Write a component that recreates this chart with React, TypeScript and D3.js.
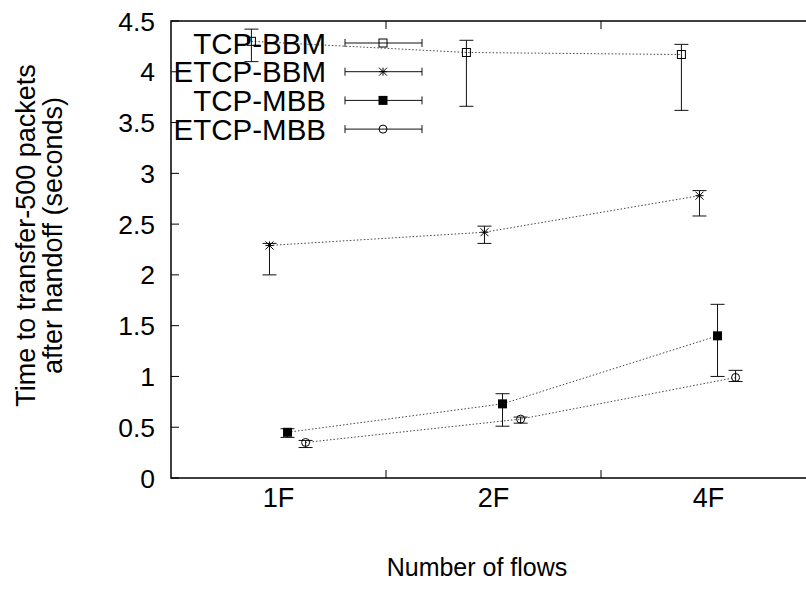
import React from "react";
import * as d3 from "d3";

const categories = ["1F", "2F", "4F"];
const seriesNames = ["TCP-BBM", "ETCP-BBM", "TCP-MBB", "ETCP-MBB"];
const tcpBbm = [4.3, 4.19, 4.17];
const tcpBbmLo = [4.1, 3.66, 3.62];
const tcpBbmHi = [4.42, 4.31, 4.27];
const etcpBbm = [2.29, 2.42, 2.78];
const etcpBbmLo = [2.0, 2.31, 2.58];
const etcpBbmHi = [2.31, 2.48, 2.83];
const tcpMbb = [0.45, 0.73, 1.4];
const tcpMbbLo = [0.4, 0.51, 1.0];
const tcpMbbHi = [0.485, 0.83, 1.71];
const etcpMbb = [0.35, 0.58, 0.99];
const etcpMbbLo = [0.3, 0.54, 0.95];
const etcpMbbHi = [0.37, 0.6, 1.06];
const yTicks = [0, 0.5, 1, 1.5, 2, 2.5, 3, 3.5, 4, 4.5];
const xMinorTicks = [1.5, 2.5];

const W = 806;
const H = 592;
const FONT = "'Liberation Sans', Arial, Helvetica, sans-serif";

const series = [
  { name: seriesNames[0], v: tcpBbm, lo: tcpBbmLo, hi: tcpBbmHi, marker: "openSquare" },
  { name: seriesNames[1], v: etcpBbm, lo: etcpBbmLo, hi: etcpBbmHi, marker: "star" },
  { name: seriesNames[2], v: tcpMbb, lo: tcpMbbLo, hi: tcpMbbHi, marker: "filledSquare" },
  { name: seriesNames[3], v: etcpMbb, lo: etcpMbbLo, hi: etcpMbbHi, marker: "openCircle" },
];

function Marker({ type, x, y }: { type: string; x: number; y: number }) {
  if (type === "openSquare")
    return <rect x={x - 4} y={y - 4} width={8} height={8} fill="none" stroke="#000" strokeWidth={1} />;
  if (type === "filledSquare")
    return <rect x={x - 4.5} y={y - 4.5} width={9} height={9} fill="#000" />;
  if (type === "openCircle")
    return <circle cx={x} cy={y} r={4} fill="none" stroke="#000" strokeWidth={1} />;
  const s = 4;
  return (
    <g stroke="#000" strokeWidth={1}>
      <line x1={x - s} y1={y} x2={x + s} y2={y} />
      <line x1={x} y1={y - s} x2={x} y2={y + s} />
      <line x1={x - s} y1={y - s} x2={x + s} y2={y + s} />
      <line x1={x - s} y1={y + s} x2={x + s} y2={y - s} />
    </g>
  );
}

export default function App() {
  const left = 171;
  const top = 21;
  const bottom = 478;
  const x = d3.scaleLinear().domain([0.5, 3.5]).range([left, 816]);
  const y = d3.scaleLinear().domain([0, 4.5]).range([bottom, top]);
  const step = 0.084;
  const line = d3
    .line<[number, number]>()
    .x((d) => d[0])
    .y((d) => d[1]);

  return (
    <svg
      width={W}
      height={H}
      style={{ position: "absolute", left: 0, top: 0, background: "#fff" }}
      fontFamily={FONT}
    >
      <rect x={0} y={0} width={W} height={H} fill="#fff" />
      {/* y ticks */}
      {yTicks.map((t) => (
        <g key={t}>
          <line x1={left} x2={left + 8} y1={y(t)} y2={y(t)} stroke="#000" strokeWidth={1} />
          <text x={155} y={y(t)} dy="0.36em" textAnchor="end" fontSize={26.5}>
            {String(t)}
          </text>
        </g>
      ))}
      {/* x minor ticks */}
      {xMinorTicks.map((t) => (
        <g key={t}>
          <line x1={x(t)} x2={x(t)} y1={bottom} y2={bottom - 8} stroke="#000" strokeWidth={1} />
          <line x1={x(t)} x2={x(t)} y1={top} y2={top + 8} stroke="#000" strokeWidth={1} />
        </g>
      ))}
      {categories.map((c, i) => (
        <text key={c} x={x(i + 1)} y={507} textAnchor="middle" fontSize={27}>
          {c}
        </text>
      ))}
      {/* frame */}
      <path
        d={`M${x(3.5)},${top}H${left}V${bottom}H${x(3.5)}`}
        fill="none"
        stroke="#000"
        strokeWidth={1.5}
      />
      {/* axis titles */}
      <text
        transform={`translate(35,${(top + bottom) / 2 - 14}) rotate(-90)`}
        textAnchor="middle"
        fontSize={27}
      >
        Time to transfer-500 packets
      </text>
      <text
        transform={`translate(62,${(top + bottom) / 2 - 14}) rotate(-90)`}
        textAnchor="middle"
        fontSize={27}
      >
        after handoff (seconds)
      </text>
      <text x={477} y={576} textAnchor="middle" fontSize={25}>
        Number of flows
      </text>
      {/* series */}
      {series.map((s, si) => {
        const off = (si - 1.5) * step;
        const pts: [number, number][] = s.v.map((v, i) => [x(i + 1 + off), y(v)]);
        return (
          <g key={s.name}>
            <path
              d={line(pts) || ""}
              fill="none"
              stroke="#444"
              strokeWidth={1}
              strokeDasharray="1.5,2"
            />
            {s.v.map((v, i) => {
              const cx = x(i + 1 + off);
              return (
                <g key={i} stroke="#111" strokeWidth={1}>
                  <line x1={cx} x2={cx} y1={y(s.lo[i])} y2={y(s.hi[i])} />
                  <line x1={cx - 7} x2={cx + 7} y1={y(s.lo[i])} y2={y(s.lo[i])} />
                  <line x1={cx - 7} x2={cx + 7} y1={y(s.hi[i])} y2={y(s.hi[i])} />
                </g>
              );
            })}
            {pts.map((p, i) => (
              <Marker key={i} type={s.marker} x={p[0]} y={p[1]} />
            ))}
          </g>
        );
      })}
      {/* legend */}
      {series.map((s, si) => {
        const ly = 43 + si * 28.7;
        return (
          <g key={s.name}>
            <text x={326} y={ly} dy="0.36em" textAnchor="end" fontSize={29.5}>
              {s.name}
            </text>
            <g stroke="#111" strokeWidth={1}>
              <line x1={345} x2={422} y1={ly} y2={ly} />
              <line x1={345} x2={345} y1={ly - 4} y2={ly + 4} />
              <line x1={422} x2={422} y1={ly - 4} y2={ly + 4} />
            </g>
            <Marker type={s.marker} x={383} y={ly} />
          </g>
        );
      })}
    </svg>
  );
}
